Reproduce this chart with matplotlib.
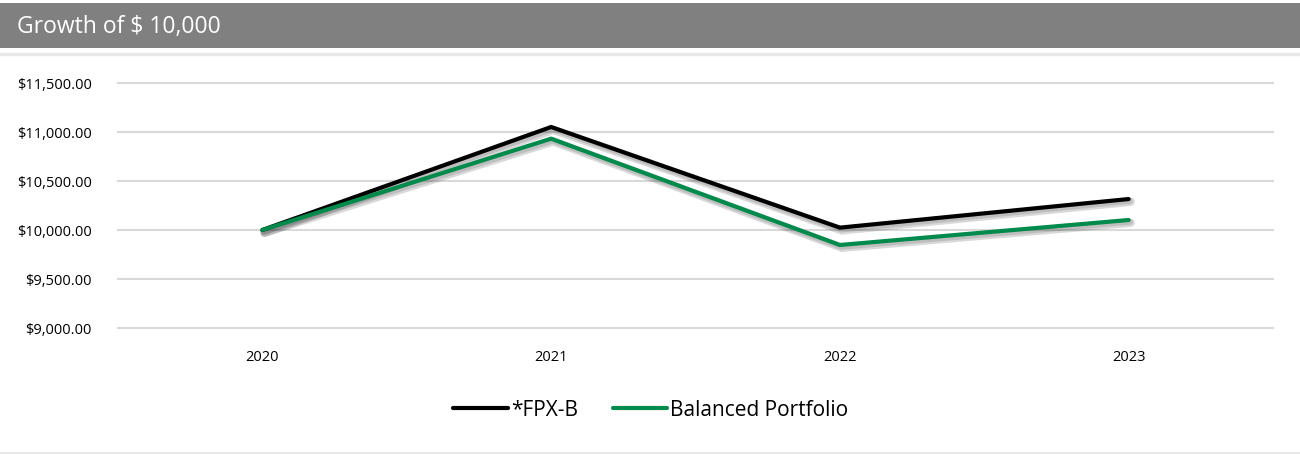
import numpy as np
import matplotlib.pyplot as plt
import matplotlib.patheffects as pe
from matplotlib.patches import Rectangle
from matplotlib.lines import Line2D
from matplotlib.ticker import FuncFormatter

plt.rcParams['font.family'] = ['Open Sans', 'DejaVu Sans']

# data
years = ['2020', '2021', '2022', '2023']
fpx_b = [10000, 11051, 10024, 10316]
balanced = [10000, 10932, 9847, 10102]
y_ticks = [9000, 9500, 10000, 10500, 11000, 11500]
names = ['*FPX-B', 'Balanced Portfolio']
colors = ['#000000', '#008a4b']

fig = plt.figure(figsize=(13, 4.56), dpi=100)

# title bar
fig.patches.append(Rectangle((0, 1 - 49 / 456), 1, 45 / 456, transform=fig.transFigure,
                             facecolor='#808080', edgecolor='none'))
fig.text(17 / 1300, 1 - 27 / 456, 'Growth of $ 10,000', color='white', fontsize=16.5,
         va='center', ha='left')
fig.add_artist(Line2D([0, 1], [1 - 55 / 456] * 2, color='#e8e8e8', lw=2.5))
fig.add_artist(Line2D([0, 1], [1 - 454 / 456] * 2, color='#e8e8e8', lw=1.5))

ax = fig.add_axes([118 / 1300, 1 - 329 / 456, 1155 / 1300, 245 / 456])
x = np.arange(len(years))

shadow = [pe.SimpleLineShadow(offset=(1.5, -2), shadow_color='#000000', alpha=0.15, linewidth=6),
          pe.SimpleLineShadow(offset=(1, -1.5), shadow_color='#000000', alpha=0.12, linewidth=4),
          pe.Normal()]
for vals, name, c, z in zip([fpx_b, balanced], names, colors, [3, 4]):
    ax.plot(x, vals, color=c, lw=3, path_effects=shadow,
            solid_capstyle='round', solid_joinstyle='miter', zorder=z)

ax.set_xlim(-0.5, len(years) - 0.5)
ax.set_ylim(9000, 11500)
ax.set_xticks(x)
ax.set_xticklabels(years)
ax.set_yticks(y_ticks)
ax.yaxis.set_major_formatter(FuncFormatter(lambda v, p: f'${v:,.2f}'))
ax.grid(axis='y', color='#d9d9d9', lw=1.5, clip_on=False)
ax.set_axisbelow(True)
for s in ax.spines.values():
    s.set_visible(False)
ax.tick_params(axis='both', length=0, labelsize=10.5, colors='#000000')
ax.tick_params(axis='y', pad=19)
ax.tick_params(axis='x', pad=15)

handles = [Line2D([], [], color=c, lw=3, solid_capstyle='round') for c in colors]
fig.legend(handles, names, loc='center', bbox_to_anchor=(651 / 1300, 1 - 411 / 456), ncol=2,
           frameon=False, fontsize=15, handlelength=2.6, handletextpad=0.15, columnspacing=1.7)

fig.savefig('out.png', dpi=100)
